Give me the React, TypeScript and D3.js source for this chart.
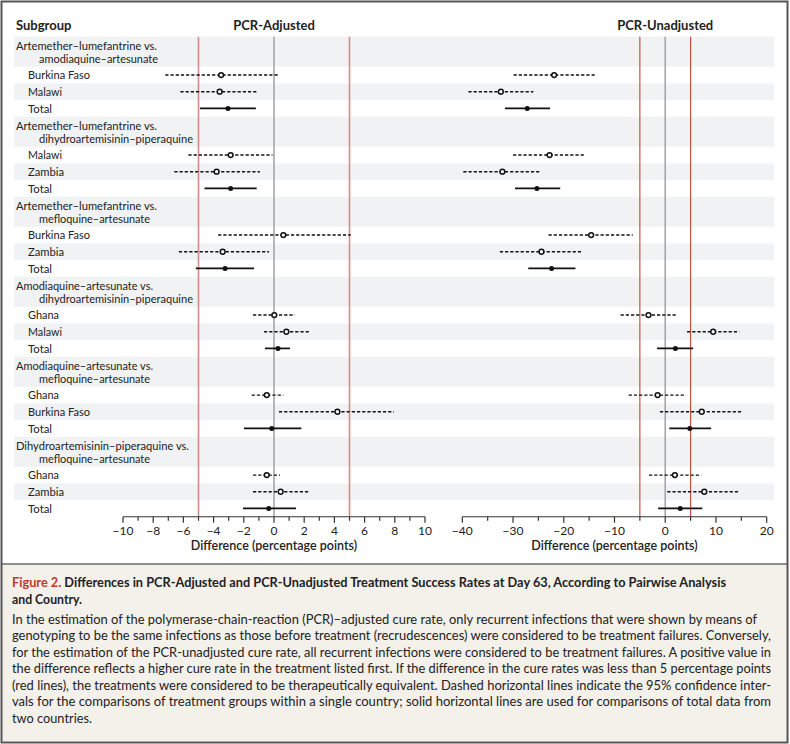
import React from "react";
import * as d3 from "d3";

const groupLine1 = [
  "Artemether–lumefantrine vs.",
  "Artemether–lumefantrine vs.",
  "Artemether–lumefantrine vs.",
  "Amodiaquine–artesunate vs.",
  "Amodiaquine–artesunate vs.",
  "Dihydroartemisinin–piperaquine vs.",
];
const groupLine2 = [
  "amodiaquine–artesunate",
  "dihydroartemisinin–piperaquine",
  "mefloquine–artesunate",
  "dihydroartemisinin–piperaquine",
  "mefloquine–artesunate",
  "mefloquine–artesunate",
];
const rowLabels = [
  "Burkina Faso", "Malawi", "Total",
  "Malawi", "Zambia", "Total",
  "Burkina Faso", "Zambia", "Total",
  "Ghana", "Malawi", "Total",
  "Ghana", "Burkina Faso", "Total",
  "Ghana", "Zambia", "Total",
];
const adjEst = [-3.5, -3.6, -3.05, -2.87, -3.8, -2.87, 0.62, -3.4, -3.24, 0.02, 0.82, 0.26, -0.48, 4.2, -0.15, -0.48, 0.44, -0.35];
const adjLo = [-7.2, -6.2, -4.9, -5.67, -6.6, -4.6, -3.7, -6.3, -5.18, -1.39, -0.66, -0.6, -1.48, 0.33, -1.99, -1.39, -1.39, -2.05];
const adjHi = [0.26, -1.15, -1.2, -0.1, -0.93, -1.15, 5.08, -0.33, -1.32, 1.39, 2.43, 1.06, 0.62, 7.95, 1.81, 0.4, 2.36, 1.46];
const unEst = [-21.9, -32.4, -27.2, -22.8, -32.1, -25.3, -14.6, -24.4, -22.4, -3.3, 9.45, 2.0, -1.5, 7.2, 4.85, 1.9, 7.7, 2.95];
const unLo = [-29.9, -38.8, -31.6, -30, -39.8, -29.6, -23, -32.6, -27, -8.8, 4.3, -1.6, -7.2, -1.05, 0.8, -3.2, 0.4, -1.4];
const unHi = [-13.9, -26, -22.7, -16, -24.7, -20.7, -6.4, -16.5, -17.7, 2.2, 14.6, 5.5, 4.1, 15, 9.05, 7.1, 14.5, 7.3];

const adjTicks = [-10, -8, -6, -4, -2, 0, 2, 4, 6, 8, 10];
const adjMinor = [-9, -7, -5, -3, -1, 1, 3, 5, 7, 9];
const unTicks = [-40, -30, -20, -10, 0, 10, 20];
const unMinor = [-35, -25, -15, -5, 5, 15];

const titleRed = "Figure 2.";
const titleLines = [
  " Differences in PCR-Adjusted and PCR-Unadjusted Treatment Success Rates at Day 63, According to Pairwise Analysis",
  "and Country.",
];
const bodyLines = [
  "In the estimation of the polymerase-chain-reaction (PCR)–adjusted cure rate, only recurrent infections that were shown by means of",
  "genotyping to be the same infections as those before treatment (recrudescences) were considered to be treatment failures. Conversely,",
  "for the estimation of the PCR-unadjusted cure rate, all recurrent infections were considered to be treatment failures. A positive value in",
  "the difference reflects a higher cure rate in the treatment listed first. If the difference in the cure rates was less than 5 percentage points",
  "(red lines), the treatments were considered to be therapeutically equivalent. Dashed horizontal lines indicate the 95% confidence inter-",
  "vals for the comparisons of treatment groups within a single country; solid horizontal lines are used for comparisons of total data from",
  "two countries.",
];

// layout: rendered widths of texts (px) to mimic the reference's narrow typeface
const TEXT_W: Record<string, number> = {
  "Artemether–lumefantrine vs.": 141,
  "amodiaquine–artesunate": 119,
  "dihydroartemisinin–piperaquine": 154,
  "mefloquine–artesunate": 111,
  "Amodiaquine–artesunate vs.": 137,
  "Dihydroartemisinin–piperaquine vs.": 173,
  "Burkina Faso": 62,
  "Malawi": 34,
  "Total": 24,
  "Zambia": 36,
  "Ghana": 31,
};
const BODY_W = [745, 759, 759, 759, 759, 759, 80];

const FONT = "Lato, 'Liberation Sans', sans-serif";
const W = 790;
const H = 744;
const TOP = 36.7;
const HEAD_H = 30;
const ROW_H = 16.67;
const GROUP_H = HEAD_H + 3 * ROW_H;
const AXIS_Y = TOP + 6 * GROUP_H;

const xAdj = d3.scaleLinear().domain([-10, 10]).range([123, 425]);
const xUn = d3.scaleLinear().domain([-40, 20]).range([462.3, 766.7]);

const fmt = (v: number) => (v < 0 ? "\u2212" + Math.abs(v) : String(v));

function Label({ x, y, s }: { x: number; y: number; s: string }) {
  return (
    <text x={x} y={y} fontSize={12.2} fill="#222" textLength={TEXT_W[s]} lengthAdjust="spacingAndGlyphs">
      {s}
    </text>
  );
}

function Axis({ x, ticks, minor }: { x: d3.ScaleLinear<number, number>; ticks: number[]; minor: number[] }) {
  const [r0, r1] = x.range();
  return (
    <g>
      <line x1={r0} x2={r1} y1={AXIS_Y} y2={AXIS_Y} stroke="#333" strokeWidth={1.2} />
      {ticks.map((t) => (
        <g key={"M" + t}>
          <line x1={x(t)} x2={x(t)} y1={AXIS_Y} y2={AXIS_Y + 6} stroke="#333" strokeWidth={1.2} />
          <text x={x(t)} y={AXIS_Y + 18} textAnchor="middle" fontSize={12} fill="#222">
            {fmt(t)}
          </text>
        </g>
      ))}
      {minor.map((t) => (
        <line key={"m" + t} x1={x(t)} x2={x(t)} y1={AXIS_Y} y2={AXIS_Y + 4} stroke="#333" strokeWidth={1.2} />
      ))}
      <text x={(r0 + r1) / 2} y={AXIS_Y + 33} textAnchor="middle" fontSize={12.5} fontWeight={600} fill="#222">
        Difference (percentage points)
      </text>
    </g>
  );
}

function Panel({
  x, est, lo, hi, redColor, redWidth,
}: {
  x: d3.ScaleLinear<number, number>; est: number[]; lo: number[]; hi: number[]; redColor: string; redWidth: number;
}) {
  return (
    <g>
      <line x1={x(0)} x2={x(0)} y1={TOP} y2={AXIS_Y} stroke="#a6a6a6" strokeWidth={1.6} />
      <line x1={x(-5)} x2={x(-5)} y1={TOP} y2={AXIS_Y} stroke={redColor} strokeWidth={redWidth} />
      <line x1={x(5)} x2={x(5)} y1={TOP} y2={AXIS_Y} stroke={redColor} strokeWidth={redWidth} />
      {rowLabels.map((lab, i) => {
        const g = Math.floor(i / 3);
        const k = i % 3;
        const cy = TOP + g * GROUP_H + HEAD_H + k * ROW_H + ROW_H / 2;
        const total = lab === "Total";
        return (
          <g key={i}>
            <line
              x1={x(lo[i])}
              x2={x(hi[i])}
              y1={cy}
              y2={cy}
              stroke="#111"
              strokeWidth={total ? 1.7 : 1.4}
              strokeDasharray={total ? undefined : "3.2,2"}
            />
            {total ? (
              <circle cx={x(est[i])} cy={cy} r={2.5} fill="#111" />
            ) : (
              <circle cx={x(est[i])} cy={cy} r={2.4} fill="#fff" stroke="#111" strokeWidth={1.5} />
            )}
          </g>
        );
      })}
    </g>
  );
}

export default function App() {
  return (
    <svg
      width={W}
      height={H}
      style={{ position: "absolute", left: 0, top: 0, fontFamily: FONT }}
      xmlns="http://www.w3.org/2000/svg"
    >
      <rect x={0} y={0} width={W} height={H} fill="#fff" />
      <rect x={1.5} y={564} width={W - 4} height={177} fill="#f4f0ea" />
      <line x1={1.5} x2={W - 2.5} y1={564} y2={564} stroke="#6a6a6a" strokeWidth={1.5} />
      <rect x={1.5} y={1.5} width={W - 4} height={H - 3} fill="none" stroke="#555" strokeWidth={2} />

      {/* bands */}
      {d3.range(6).map((g) => {
        const gy = TOP + g * GROUP_H;
        return (
          <g key={g}>
            <rect x={14} y={gy} width={760} height={HEAD_H} fill="#f1f2f4" />
            <rect x={14} y={gy + HEAD_H + ROW_H} width={760} height={ROW_H} fill="#f1f2f4" />
          </g>
        );
      })}

      {/* headers */}
      <text x={16} y={29.5} fontSize={13} fontWeight={700} fill="#222">Subgroup</text>
      <text x={xAdj(0)} y={29.5} fontSize={13} fontWeight={700} fill="#222" textAnchor="middle">PCR-Adjusted</text>
      <text x={xUn(0)} y={29.5} fontSize={13} fontWeight={700} fill="#222" textAnchor="middle">PCR-Unadjusted</text>

      {/* labels */}
      {groupLine1.map((l1, g) => {
        const gy = TOP + g * GROUP_H;
        return (
          <g key={g}>
            <Label x={16} y={gy + 13.0} s={l1} />
            <Label x={39} y={gy + 26.0} s={groupLine2[g]} />
          </g>
        );
      })}
      {rowLabels.map((lab, i) => {
        const g = Math.floor(i / 3);
        const k = i % 3;
        const cy = TOP + g * GROUP_H + HEAD_H + k * ROW_H + ROW_H / 2;
        return <Label key={i} x={28} y={cy + 4.3} s={lab} />;
      })}

      <Panel x={xAdj} est={adjEst} lo={adjLo} hi={adjHi} redColor="#cf8f86" redWidth={1.6} />
      <Panel x={xUn} est={unEst} lo={unLo} hi={unHi} redColor="#c0463a" redWidth={1.1} />

      <Axis x={xAdj} ticks={adjTicks} minor={adjMinor} />
      <Axis x={xUn} ticks={unTicks} minor={unMinor} />

      {/* caption */}
      <text x={12} y={587} fontSize={13.5} fontWeight={700} fill="#222" textLength={714} lengthAdjust="spacingAndGlyphs">
        <tspan fill="#c0392b">{titleRed}</tspan>
        <tspan>{titleLines[0]}</tspan>
      </text>
      <text x={12} y={603.5} fontSize={13.5} fontWeight={700} fill="#222" textLength={70} lengthAdjust="spacingAndGlyphs">
        {titleLines[1]}
      </text>
      {bodyLines.map((line, i) => (
        <text
          key={i}
          x={12}
          y={623.5 + i * 16.55}
          fontSize={13}
          fill="#222"
          textLength={BODY_W[i]}
          lengthAdjust="spacingAndGlyphs"
        >
          {line}
        </text>
      ))}
    </svg>
  );
}
